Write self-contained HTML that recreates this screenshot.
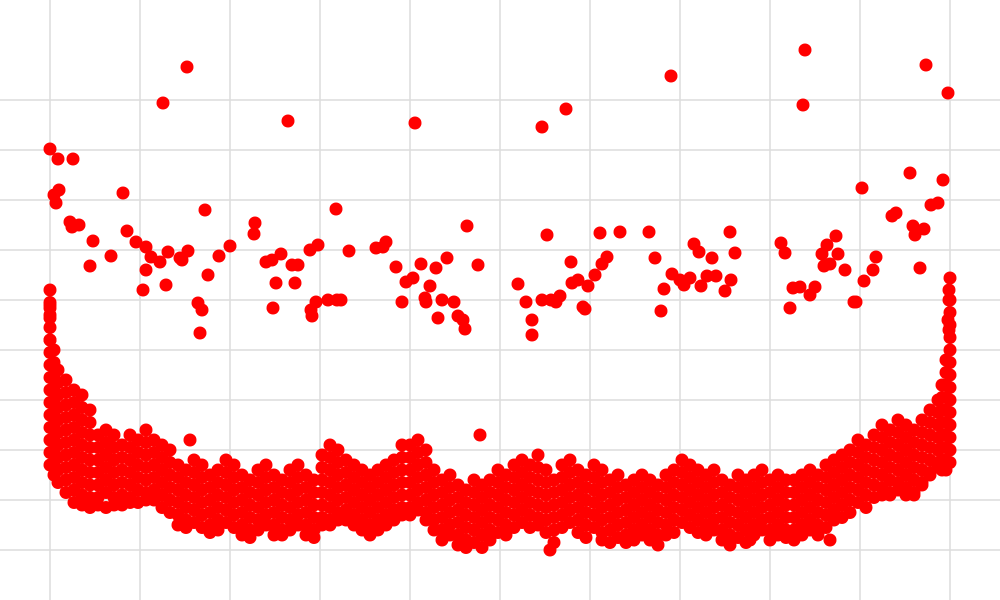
<!DOCTYPE html>
<html><head><meta charset="utf-8"><style>
html,body{margin:0;padding:0;background:#fff;}
svg{display:block;font-family:"Liberation Sans",sans-serif;}
</style></head><body>
<svg id="chart" width="1000" height="600" viewBox="0 0 1000 600">
<g id="grid"></g>
<g id="pts"></g>
</svg>
<script>
const xTicks=[0,90,180,270,360,450,540,630,720,810,900];
const yTicks=[10,20,30,40,50,60,70,80,90,100];
const bandX=[0,4,8,16,24,32,40,48,56,64,72,80,88,96,104,112,120,128,136,144,152,160,168,176,184,192,200,208,216,224,232,240,248,256,264,272,280,288,296,304,312,320,328,336,344,352,360,368,376,384,392,400,408,416,424,432,440,448,456,464,472,480,488,496,504,512,520,528,536,544,552,560,568,576,584,592,600,608,616,624,632,640,648,656,664,672,680,688,696,704,712,720,728,736,744,752,760,768,776,784,792,800,808,816,824,832,840,848,856,864,872,880,888,892,896,900];
const bandY=[
[62,59.5,57,54.5,52,49.5,47,44.5,42,39.5,37,34.5,32,29.5,27],
[50,47.5,45,42.5,40,37.5,35,32.5,30,27.5,25],
[46,43.5,41,38.5,36,33.5,31,28.5,26,23.5],
[44,41.5,39,36.5,34,31.5,29,26.5,24,21.5],
[42,39.5,37,34.5,32,29.5,27,24.5,22,19.5],
[41,38.5,36,33.5,31,28.5,26,23.5,21,19],
[38,35.5,33,30.5,28,25.5,23,20.5,18.5],
[33,30.5,28,25.5,23,20.5,19],
[34,31.5,29,26.5,24,21.5,18.5],
[33,30.5,28,25.5,23,20.5,19],
[31,28.5,26,23.5,21,19],
[33,30.5,28,25.5,23,20.5,19.5],
[32,29.5,27,24.5,22,19.5],
[34,31.5,29,26.5,24,21.5,20],
[32,29.5,27,24.5,22,20],
[31,28.5,26,23.5,21,18.5],
[30,27.5,25,22.5,20,17.5],
[27,24.5,22,19.5,17,15],
[26,23.5,21,18.5,16,14.5],
[28,25.5,23,20.5,18,15.5],
[27,24.5,22,19.5,17,14.5],
[25,22.5,20,17.5,15,13.5],
[26,23.5,21,18.5,16,14],
[28,25.5,23,20.5,18,15.5],
[27,24.5,22,19.5,17,14.5],
[25,22.5,20,17.5,15,13],
[24,21.5,19,16.5,14,12.5],
[26,23.5,21,18.5,16,14],
[27,24.5,22,19.5,17,15],
[25,22.5,20,17.5,15,13],
[24,21.5,19,16.5,14,13],
[26,23.5,21,18.5,16,14],
[27,24.5,22,19.5,17,15],
[25,22.5,20,17.5,15,13],
[24,21.5,19,16.5,14,12.5],
[29,26.5,24,21.5,19,16.5,15],
[31,28.5,26,23.5,21,18.5,16,15],
[30,27.5,25,22.5,20,17.5,16],
[28,25.5,23,20.5,18,16],
[27,24.5,22,19.5,17,15],
[26,23.5,21,18.5,16,14],
[25,22.5,20,17.5,15,13],
[26,23.5,21,18.5,16,14],
[27,24.5,22,19.5,17,15],
[28,25.5,23,20.5,18,16],
[31,28.5,26,23.5,21,18.5,17],
[31,28.5,26,23.5,21,18.5,17],
[32,29.5,27,24.5,22,19.5,18],
[30,27.5,25,22.5,20,17.5,16],
[26,23.5,21,18.5,16,14],
[24,21.5,19,16.5,14,12],
[25,22.5,20,17.5,15,13],
[23,20.5,18,15.5,13,11],
[22,19.5,17,14.5,12,10.5],
[24,21.5,19,16.5,14,11.5],
[23,20.5,18,15.5,13,10.5],
[24,21.5,19,16.5,14,12],
[26,23.5,21,18.5,16,13.5],
[25,22.5,20,17.5,15,13],
[27,24.5,22,19.5,17,14.5],
[28,25.5,23,20.5,18,15.5],
[27,24.5,22,19.5,17,14.5],
[29,26.5,24,21.5,19,16.5,15],
[26,23.5,21,18.5,16,13.5],
[24,21.5,19,16.5,14,11.5],
[27,24.5,22,19.5,17,14.5],
[28,25.5,23,20.5,18,15.5],
[26,23.5,21,18.5,16,13.5],
[25,22.5,20,17.5,15,12.5],
[27,24.5,22,19.5,17,14.5],
[26,23.5,21,18.5,16,13.5,12],
[24,21.5,19,16.5,14,11.5],
[25,22.5,20,17.5,15,12.5],
[23,20.5,18,15.5,13,11.5],
[24,21.5,19,16.5,14,12],
[25,22.5,20,17.5,15,13],
[24,21.5,19,16.5,14,12],
[23,20.5,18,15.5,13,11],
[25,22.5,20,17.5,15,13],
[26,23.5,21,18.5,16,13.5],
[28,25.5,23,20.5,18,15.5],
[27,24.5,22,19.5,17,14.5],
[26,23.5,21,18.5,16,13.5],
[25,22.5,20,17.5,15,13],
[26,23.5,21,18.5,16,14],
[24,21.5,19,16.5,14,12],
[23,20.5,18,15.5,13,11],
[25,22.5,20,17.5,15,12.5],
[24,21.5,19,16.5,14,11.5],
[25,22.5,20,17.5,15,13],
[26,23.5,21,18.5,16,14],
[24,21.5,19,16.5,14,12],
[25,22.5,20,17.5,15,13],
[24,21.5,19,16.5,14,12.5],
[24,21.5,19,16.5,14,12],
[25,22.5,20,17.5,15,13],
[26,23.5,21,18.5,16,14],
[25,22.5,20,17.5,15,13],
[27,24.5,22,19.5,17,14.5],
[28,25.5,23,20.5,18,16],
[29,26.5,24,21.5,19,16.5],
[30,27.5,25,22.5,20,17.5],
[32,29.5,27,24.5,22,19.5],
[31,28.5,26,23.5,21,18.5],
[33,30.5,28,25.5,23,20.5],
[35,32.5,30,27.5,25,22.5,21],
[34,31.5,29,26.5,24,21.5,21],
[36,33.5,31,28.5,26,23.5,22],
[35,32.5,30,27.5,25,22.5,21],
[34,31.5,29,26.5,24,21.5,21],
[36,33.5,31,28.5,26,23.5,23],
[38,35.5,33,30.5,28,25.5,25],
[40,37.5,35,32.5,30,27.5,27],
[43,40.5,38,35.5,33,30.5,28,26],
[48,45.5,43,40.5,38,35.5,33,30.5,28,26],
[60,57.5,55,52.5,50,47.5,45,42.5,40,37.5,35,32.5,30,27.5]];
const outX=[0,8,23,4,6,9,20,22,29,43,40,61,73,77,86,93,96,96,101,110,113,116,118,130,132,137,138,148,150,152,155,158,169,180,204,205,216,222,223,226,231,238,242,245,248,260,261,262,266,268,278,286,287,291,299,326,333,336,346,352,356,363,365,371,375,376,380,386,388,392,397,404,408,413,415,417,428,468,476,482,482,492,492,497,501,506,510,516,521,522,528,533,535,538,545,550,552,557,570,599,605,611,614,621,622,630,634,640,644,649,651,657,662,666,675,680,681,685,731,735,740,743,750,753,755,760,765,772,774,777,780,786,788,795,804,806,812,814,823,826,842,846,860,863,865,870,874,876,881,888,893,898,900,0,0,0,0,899,899,898,899,60,140,430,500,700,780];
const outY=[90.2,88.2,88.2,81,79.4,82,75.6,74.6,75,71.8,66.8,68.8,81.4,73.8,71.6,62,70.6,66,68.6,67.6,99.4,63,69.6,68.4,68,106.6,69.8,59.4,53.4,58,78,65,68.8,70.8,73.2,75.4,67.6,68,58.4,63.4,69.2,95.8,67,63.4,67,70,58,56.8,59.6,71,60,78.2,60,60,69.8,70.4,70.6,71.6,66.6,59.6,63.6,64.4,95.4,67.2,60.4,59.6,62.8,66.4,56.4,60,68.4,59.6,56.8,56,54.2,74.8,67,63.2,59.6,56,53,94.6,60,73,60,59.6,60.8,98.2,67.6,63.4,64,58.6,58.2,62.8,65,73.4,67.2,68.6,73.6,73.6,68.4,57.8,62.2,104.8,65.2,64,63,64.4,71.2,69.6,62.8,64.8,68.4,64.8,61.8,73.6,64,69.4,71.4,69.4,58.4,62.4,62.6,99,110,61,62.6,69.2,66.8,71,67.2,72.8,69.2,66,59.6,59.6,82.4,63.8,66,68.6,76.8,77.4,85.4,74.8,73,66.4,74.2,107,79,79.4,84,101.4,64.4,58.4,59,56.4,52,62,60,56,54,31,32,33,10,12,12];

const NS='http://www.w3.org/2000/svg';
function xs(d){return 50+d;}
function ys(v){return 600-5*v;}
const grid=document.getElementById('grid');
const pts=document.getElementById('pts');
xTicks.forEach(t=>{
  const l=document.createElementNS(NS,'line');
  l.setAttribute('x1',xs(t));l.setAttribute('x2',xs(t));l.setAttribute('y1',0);l.setAttribute('y2',600);
  l.setAttribute('stroke','#dcdcdc');l.setAttribute('stroke-width','1.5');
  
  
  grid.appendChild(l);
});
yTicks.forEach(t=>{
  const l=document.createElementNS(NS,'line');
  l.setAttribute('x1',0);l.setAttribute('x2',1000);l.setAttribute('y1',ys(t));l.setAttribute('y2',ys(t));
  l.setAttribute('stroke','#dcdcdc');l.setAttribute('stroke-width','1.5');
  
  
  grid.appendChild(l);
});
function dot(x,y){
  const c=document.createElementNS(NS,'circle');
  c.setAttribute('cx',xs(x));c.setAttribute('cy',ys(y));c.setAttribute('r',6.5);
  c.setAttribute('fill','#ff0000');
  
  
  pts.appendChild(c);
}
bandX.forEach((x,i)=>{bandY[i].forEach(v=>dot(x,v));});
outX.forEach((x,i)=>dot(x,outY[i]));
</script>
</body></html>
